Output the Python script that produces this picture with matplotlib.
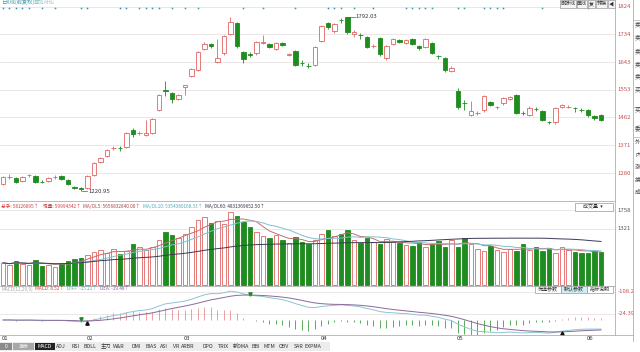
import numpy as np
import pandas as pd
import matplotlib
matplotlib.use("Agg")
import matplotlib.pyplot as plt
import matplotlib.transforms as mtransforms
from matplotlib.patches import Rectangle

plt.rcParams['font.family'] = ['Noto Sans CJK SC', 'DejaVu Sans']

# ----------------------------
# Daily K-line data
# ----------------------------
opens = [1244, 1266, 1264, 1254, 1272, 1270, 1251, 1254, 1266, 1270,
         1257, 1234, 1231, 1231, 1273, 1316, 1336, 1361, 1363, 1365,
         1421, 1410, 1405, 1411, 1486, 1553, 1542, 1523, 1562, 1598,
         1618, 1686, 1703, 1644, 1673, 1736, 1772, 1677, 1671, 1673,
         1706, 1703, 1686, 1706, 1667, 1680, 1641, 1632, 1634, 1713,
         1772, 1745, 1782, 1790, 1736, 1733, 1726, 1695, 1722, 1657,
         1703, 1716, 1706, 1719, 1696, 1693, 1706, 1664, 1657, 1614,
         1549, 1510, 1470, 1476, 1486, 1513, 1495, 1509, 1523, 1536,
         1478, 1470, 1491, 1483, 1448, 1447, 1496, 1496, 1494, 1487,
         1486, 1467, 1470]
closes = [1267, 1268, 1250, 1267, 1273, 1250, 1250, 1264, 1267, 1260,
          1244, 1231, 1228, 1270, 1313, 1329, 1355, 1362, 1361, 1411,
          1408, 1411, 1411, 1457, 1536, 1550, 1523, 1536, 1568, 1621,
          1677, 1703, 1697, 1657, 1729, 1775, 1696, 1654, 1668, 1709,
          1709, 1693, 1706, 1699, 1670, 1634, 1640, 1630, 1693, 1762,
          1758, 1768, 1780, 1742, 1742, 1731, 1693, 1697, 1670, 1696,
          1719, 1709, 1716, 1703, 1690, 1719, 1673, 1662, 1618, 1624,
          1496, 1508, 1483, 1477, 1532, 1503, 1497, 1526, 1529, 1477,
          1476, 1493, 1489, 1454, 1446, 1493, 1503, 1497, 1492, 1486,
          1470, 1460, 1454]
highs = [1270, 1276, 1268, 1270, 1278, 1272, 1256, 1268, 1272, 1272,
         1260, 1238, 1234, 1274, 1316, 1333, 1358, 1368, 1370, 1414,
         1426, 1418, 1454, 1460, 1540, 1582, 1546, 1540, 1570, 1624,
         1680, 1708, 1706, 1719, 1732, 1790, 1775, 1680, 1676, 1712,
         1732, 1706, 1710, 1710, 1674, 1684, 1650, 1640, 1696, 1765,
         1775, 1772, 1788, 1792.03, 1748, 1740, 1728, 1702, 1725, 1700,
         1722, 1718, 1719, 1722, 1699, 1722, 1709, 1668, 1660, 1630,
         1560, 1520, 1516, 1482, 1536, 1516, 1500, 1530, 1533, 1540,
         1482, 1498, 1495, 1486, 1450, 1496, 1506, 1503, 1496, 1492,
         1490, 1470, 1472]
lows = [1240, 1262, 1246, 1250, 1268, 1246, 1246, 1250, 1262, 1256,
        1240, 1228, 1220.95, 1228, 1270, 1312, 1333, 1356, 1352, 1362,
        1398, 1404, 1400, 1408, 1482, 1533, 1510, 1518, 1536, 1594,
        1614, 1682, 1690, 1640, 1668, 1732, 1690, 1640, 1660, 1668,
        1702, 1688, 1682, 1695, 1664, 1630, 1630, 1624, 1630, 1708,
        1752, 1740, 1770, 1736, 1725, 1720, 1688, 1690, 1665, 1650,
        1698, 1705, 1702, 1698, 1684, 1688, 1670, 1655, 1612, 1610,
        1490, 1485, 1466, 1470, 1480, 1498, 1490, 1504, 1520, 1472,
        1470, 1466, 1484, 1450, 1440, 1442, 1492, 1492, 1480, 1480,
        1464, 1455, 1450]
volumes = [520, 480, 560, 500, 470, 590, 450, 480, 430, 520,
           560, 610, 640, 700, 780, 820, 760, 850, 720, 800,
           950, 880, 830, 900, 1050, 1250, 1180, 1100, 1200, 1350,
           1520, 1600, 1450, 1500, 1420, 1720, 1620, 1480, 1350, 1250,
           1150, 1100, 1180, 1050, 980, 1120, 1000, 950, 1050, 1200,
           1280, 1150, 1200, 1300, 1050, 980, 1100, 1000, 950, 1080,
           1000, 980, 940, 920, 1000, 900, 960, 1020, 880, 1050,
           900, 1100, 950, 850, 800, 920, 830, 780, 850, 800,
           950, 820, 880, 800, 860, 750, 900, 820, 780, 760,
           740, 800, 780]

month_labels = ["01", "02", "03", "04", "05", "06"]
month_start = [0, 13, 28, 49, 70, 90]
event_days = [0, 1, 2, 3, 4, 6, 8, 12, 13, 18, 19, 21, 22, 23, 24, 26, 28, 30,
              37, 40, 45, 50, 51, 52, 54, 57, 62, 63, 64, 65, 66, 70, 71, 74,
              75, 76, 77, 83, 90]
cross_days = [12, 13, 38, 86]
cross_gold = [False, True, False, True]
price_ticks = [1280, 1371, 1462, 1553, 1643, 1734, 1824]
vol_ticks = [1321, 1758]
macd_ticks = [24.39, 108.2]
tabs = ["MACD", "ADJ", "RSI", "BOLL", "主力", "W&R", "DMI", "BIAS", "ASI", "VR",
        "ARBR", "DPO", "TRIX", "新DMA", "BBI", "MTM", "OBV", "SAR", "EXPMA"]
tab_x = [45, 61, 75, 90, 106, 119, 136, 151, 164, 176, 188, 208, 223, 241,
         256, 269, 284, 299, 313]
vol_head = ["总手: 58126895↑", "现量: 59994342↑", "MA/OL5: 5656832840.00↑",
            "MA/OL10: 5354380168.33↑", "MA/OL60: 4831369652.50↑"]
vol_head_x = [1, 43, 78, 137, 200]
macd_head = ["MACD(12,26,9)", "MACD: 8.52↑", "DIFF: -15.21↑", "DEA: -19.48↑"]
macd_head_x = [1, 32, 67, 100]

RED = '#e06464'
GREEN = '#1e8c1e'
GRID = '#e9e2e2'
AXC = '#c85050'
FS = 4.3

W, H = 640, 352
fig = plt.figure(figsize=(W / 100, H / 100), dpi=100)
fig.patch.set_facecolor('white')
renderer = fig.canvas.get_renderer()


def px_axes(x0, y0, x1, y1):
    return fig.add_axes([x0 / W, 1 - y1 / H, (x1 - x0) / W, (y1 - y0) / H])


def ftext(x, y, s, **kw):
    kw.setdefault('fontsize', FS)
    kw.setdefault('va', 'center')
    return fig.text(x / W, 1 - y / H, s, **kw)


def header_row(texts, xs, colors, y, fs):
    # place texts at their reference x, pushed right if the previous one runs into it
    end = -10
    for s, xx, colr in zip(texts, xs, colors):
        t = ftext(max(xx, end + 2.5), y, s, color=colr, fontsize=fs)
        end = t.get_window_extent(renderer).x1


n = len(opens)
idx = np.arange(n)
o = np.array(opens, float)
c = np.array(closes, float)
up = c >= o
xlim = (-3 / 6.5, (615 - 3) / 6.5)


def clean(ax):
    for s in ax.spines.values():
        s.set_visible(False)
    for side in ('top', 'right'):
        ax.spines[side].set_visible(True)
        ax.spines[side].set_color('#b0b0b0')
        ax.spines[side].set_linewidth(0.6)
    ax.set_xticks([])
    ax.set_yticks([])
    ax.set_xlim(*xlim)


def right_labels(ax, vals, texts, color):
    tr = mtransforms.blended_transform_factory(ax.transAxes, ax.transData)
    for v, t in zip(vals, texts):
        ax.axhline(v, color=GRID, lw=0.6, zorder=0)
        ax.text(1.004, v, t, transform=tr, fontsize=FS, color=color,
                va='center', ha='left', clip_on=False)


# ----------------------------
# Price panel
# ----------------------------
ax = px_axes(0, 0, 615, 201)
clean(ax)
ax.spines['top'].set_visible(False)
ax.set_ylim(1188.3, 1846.9)
right_labels(ax, price_ticks, [str(p) for p in price_ticks], AXC)

col = np.where(up, RED, GREEN)
ax.vlines(idx, lows, highs, colors=col, lw=0.6, zorder=1)
body = np.maximum(np.abs(c - o), 0.5)
ax.bar(idx[up], body[up], bottom=np.minimum(o, c)[up], width=0.66,
       facecolor='white', edgecolor=RED, lw=0.6, zorder=2)
ax.bar(idx[~up], body[~up], bottom=np.minimum(o, c)[~up], width=0.66,
       facecolor=GREEN, edgecolor=GREEN, lw=0.6, zorder=2)

top_tr = mtransforms.blended_transform_factory(ax.transData, ax.transAxes)
ax.scatter(event_days, [1 - 8 / 201] * len(event_days), s=1.6, color='#3a9aa8',
           transform=top_tr, zorder=3, linewidths=0)

hi_i = int(np.argmax(highs))
lo_i = int(np.argmin(lows))
ax.plot([hi_i + 0.1, hi_i + 1.1], [highs[hi_i]] * 2, color='#555555', lw=0.5)
ax.text(hi_i + 1.2, highs[hi_i], f"{highs[hi_i]:.2f}", fontsize=FS, color='#333333', va='center')
ax.plot([lo_i + 0.1, lo_i + 1.0], [lows[lo_i]] * 2, color='#555555', lw=0.5)
ax.text(lo_i + 1.1, lows[lo_i], f"{lows[lo_i]:.2f}", fontsize=FS, color='#333333', va='center')

ftext(1, 2.5, "日K线(前复权)", color='#3a9aa8', fontsize=3.8)
ftext(34, 2.5, "叠加对比", color='#9ac8d0', fontsize=3.8)
btns = [("删除线", 560, 576), ("画线", 577, 587), ("复", 588, 595), ("转换", 596, 607), ("◀", 608, 615)]
for s, x0, x1 in btns:
    fig.patches.append(Rectangle((x0 / W, 1 - 7.5 / H), (x1 - x0) / W, 7.5 / H,
                                 transform=fig.transFigure, facecolor='#f4f4f4',
                                 edgecolor='#999999', lw=0.5))
    ftext((x0 + x1) / 2, 3.7, s, ha='center', fontsize=3.6, color='#333333')

# ----------------------------
# Volume panel
# ----------------------------
av = px_axes(0, 201, 615, 286)
clean(av)
av.set_ylim(-23.4, 1969)
vol = np.array(volumes, float)
right_labels(av, vol_ticks, [str(v) for v in vol_ticks], '#555555')
av.bar(idx[up], vol[up], width=0.66, facecolor='white', edgecolor=RED, lw=0.6, zorder=2)
av.bar(idx[~up], vol[~up], width=0.66, facecolor=GREEN, edgecolor=GREEN, lw=0.6, zorder=2)
vs = pd.Series(vol)
av.plot(idx, vs.rolling(5, min_periods=1).mean(), color='#c07070', lw=0.7, zorder=3)
av.plot(idx, vs.rolling(10, min_periods=1).mean(), color='#7fc0d0', lw=0.7, zorder=3)
av.plot(idx, vs.rolling(60, min_periods=1).mean(), color='#3a3a55', lw=0.7, zorder=3)

header_row(vol_head, vol_head_x, ['#d04040', '#d04040', '#aa4444', '#5aa8b8', '#333344'], 206, 3.4)
fig.patches.append(Rectangle((575 / W, 1 - 211 / H), 38 / W, 8 / H, transform=fig.transFigure,
                             facecolor='white', edgecolor='#999999', lw=0.5))
ftext(593, 207, "成交量  ▾", ha='center', fontsize=3.6, color='#333333')

# ----------------------------
# MACD panel
# ----------------------------
am = px_axes(0, 286, 615, 335)
clean(am)
am.set_ylim(-57, 129.2)
cs = pd.Series(c)
diff = cs.ewm(span=12, adjust=False).mean() - cs.ewm(span=26, adjust=False).mean()
dea = diff.ewm(span=9, adjust=False).mean()
hist = 2 * (diff - dea)
right_labels(am, macd_ticks, [f"-{v}" for v in macd_ticks], AXC)
hcol = np.where(hist >= 0, '#e89090', '#3aa03a')
am.vlines(idx, 0, hist, colors=hcol, lw=0.6, zorder=1)
am.plot(idx, diff, color='#8cc4d4', lw=0.7, zorder=2)
am.plot(idx, dea, color='#8a6a9a', lw=0.7, zorder=2)
for k, gold in zip(cross_days, cross_gold):
    am.plot(k, dea[k] + (-6 if gold else 6), marker='^' if gold else 'v', ms=2.4,
            color='#111111' if gold else GREEN, zorder=4)

header_row(macd_head, macd_head_x, ['#aaaaaa', '#d04040', '#5aa8b8', '#8a5a9a'], 289, 3.4)
for s, x0, x1, fc in [("优选参数", 535, 561, 'white'), ("默认参数", 561, 587, '#cfeef2'),
                      ("指标说明", 587, 613, 'white')]:
    fig.patches.append(Rectangle((x0 / W, 1 - 293 / H), (x1 - x0) / W, 7.5 / H,
                                 transform=fig.transFigure, facecolor=fc,
                                 edgecolor='#999999', lw=0.5))
    ftext((x0 + x1) / 2, 289.3, s, ha='center', fontsize=3.6, color='#333333')

# ----------------------------
# Month axis, right panel and tab bar
# ----------------------------
for lab, m in zip(month_labels, month_start):
    xp = 3 + 6.5 * m
    ftext(xp - 1, 338.5, lab, ha='left', color='#333333')
fig.add_artist(plt.Line2D([0, 633 / W], [1 - 335 / H] * 2, color='#b0b0b0', lw=0.6))
fig.add_artist(plt.Line2D([633 / W] * 2, [1 - 341 / H, 1], color='#b0b0b0', lw=0.6))
for yy in (20, 107, 137):
    fig.add_artist(plt.Line2D([633 / W, 1], [1 - yy / H] * 2, color='#b0b0b0', lw=0.5))
side = ["卖", "卖", "卖", "卖", "卖", "买", "买", "委", "外", "内", "涨", "换", "成"]
side_y = [25, 38, 52, 65, 77, 90, 110, 128, 143, 155, 167, 180, 192]
for s, yy in zip(side, side_y):
    ftext(635, yy, s, color='#444444', fontsize=4.2)

fig.patches.append(Rectangle((0, 1 - 351 / H), 330 / W, 9 / H, transform=fig.transFigure,
                             facecolor='#ececec', edgecolor='none'))
fig.patches.append(Rectangle((0, 1 - 349.5 / H), 12 / W, 7 / H, transform=fig.transFigure,
                             facecolor='#8a8a8a', edgecolor='none'))
fig.patches.append(Rectangle((13 / W, 1 - 349.5 / H), 21 / W, 7 / H, transform=fig.transFigure,
                             facecolor='#a8a8a8', edgecolor='none'))
ftext(6, 346, "0", ha='center', color='white', fontsize=3.5)
ftext(23.5, 346, "指标", ha='center', color='white', fontsize=3.5)
for s, xx in zip(tabs, tab_x):
    if s == "MACD":
        fig.patches.append(Rectangle(((xx - 10) / W, 1 - 349.5 / H), 20 / W, 7 / H,
                                     transform=fig.transFigure, facecolor='#222222', edgecolor='none'))
        ftext(xx, 346, s, ha='center', color='white', fontsize=3.8)
    else:
        ftext(xx, 346, s, ha='center', color='#333333', fontsize=3.8)

fig.savefig("out.png", dpi=100, facecolor='white')
